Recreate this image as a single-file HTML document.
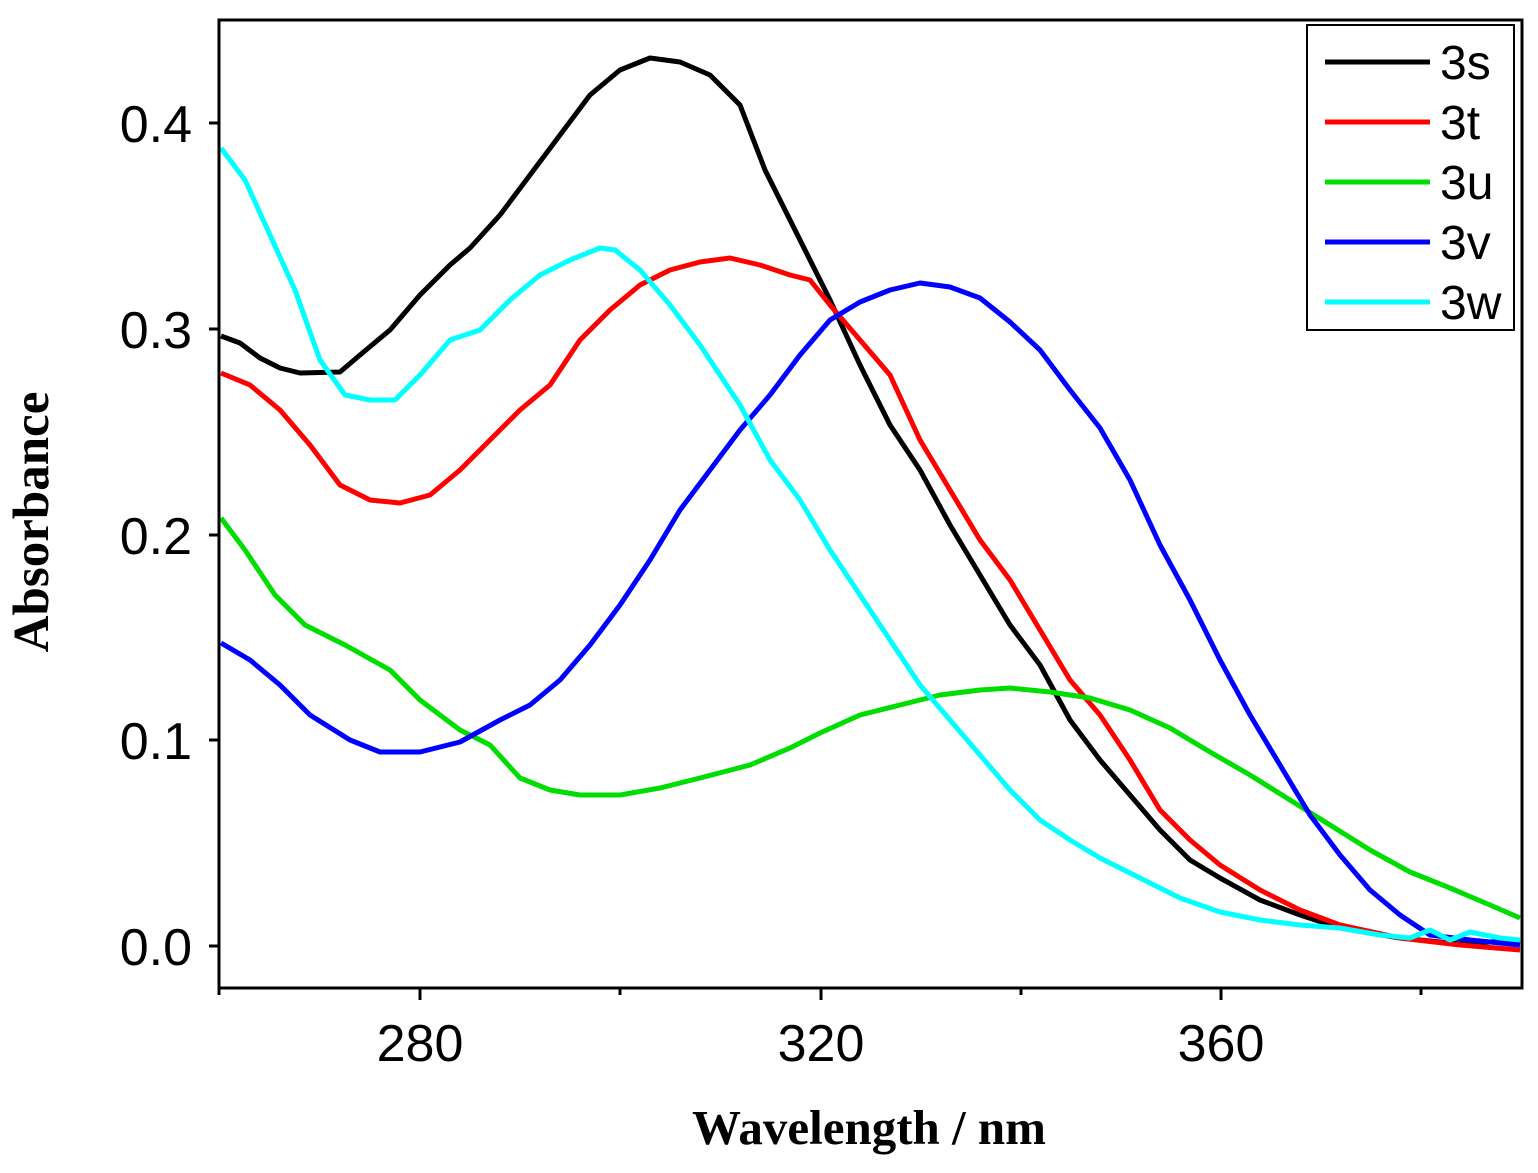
<!DOCTYPE html>
<html><head><style>body{margin:0;background:#fff}</style></head><body>
<svg width="1538" height="1168" xmlns="http://www.w3.org/2000/svg">
<rect width="1538" height="1168" fill="#fff"/>
<g fill="none" stroke-width="5" stroke-linejoin="round">
<polyline stroke="#000" points="221,336 240,343 260,358 280,368 300,373 340,372 360,355 390,330 420,295 450,265 470,248 500,215 530,175 560,135 590,95 620,70 650,58 680,62 710,75 740,105 765,170 790,220 810,260 830,300 860,365 890,425 920,470 950,525 980,575 1010,625 1040,665 1070,720 1100,760 1130,795 1160,830 1190,860 1220,878 1260,900 1300,915 1340,928 1400,938 1460,944 1520,940"/>
<polyline stroke="#f00" points="221,373 250,385 280,410 310,445 340,485 370,500 400,503 430,495 460,470 490,440 520,410 550,385 580,340 610,310 640,285 670,270 700,262 730,258 760,265 790,275 810,280 830,305 860,340 890,375 920,440 950,490 980,540 1010,580 1040,630 1070,680 1100,715 1130,760 1160,810 1190,840 1220,865 1260,890 1300,910 1340,925 1400,938 1460,945 1520,950"/>
<polyline stroke="#0d0" points="221,518 245,550 275,595 305,625 345,645 390,670 420,700 460,730 490,745 520,778 550,790 580,795 620,795 660,788 700,778 750,765 790,748 820,733 860,715 900,705 940,695 980,690 1010,688 1050,692 1090,698 1130,710 1170,728 1210,752 1250,775 1290,800 1330,825 1370,850 1410,872 1450,888 1490,905 1520,918"/>
<polyline stroke="#00f" points="221,643 250,660 280,685 310,715 350,740 380,752 420,752 460,742 500,720 530,705 560,680 590,645 620,605 650,560 680,510 710,470 740,430 770,395 800,355 830,320 860,302 890,290 920,283 950,287 980,298 1010,322 1040,350 1070,390 1100,428 1130,480 1160,545 1190,600 1220,660 1250,715 1280,765 1310,815 1340,855 1370,890 1400,915 1430,935 1470,940 1520,945"/>
<polyline stroke="#0ff" points="221,148 245,180 270,235 295,290 320,360 345,395 370,400 395,400 420,375 450,340 480,330 510,300 540,275 570,260 600,248 615,250 640,270 670,305 700,345 740,405 770,460 800,500 830,550 860,595 890,640 920,685 950,720 980,755 1010,790 1040,820 1070,840 1100,858 1140,878 1180,898 1220,912 1260,920 1300,925 1340,928 1380,935 1410,938 1430,930 1450,940 1470,932 1500,938 1520,940"/>
</g>
<rect x="219" y="20" width="1303" height="968" fill="none" stroke="#000" stroke-width="3"/>
<g stroke="#000" stroke-width="3">
<line x1="209" y1="946" x2="219" y2="946"/><line x1="209" y1="740" x2="219" y2="740"/><line x1="209" y1="535" x2="219" y2="535"/><line x1="209" y1="329" x2="219" y2="329"/><line x1="209" y1="123" x2="219" y2="123"/>
<line x1="420" y1="988" x2="420" y2="1000"/><line x1="821" y1="988" x2="821" y2="1000"/><line x1="1221" y1="988" x2="1221" y2="1000"/>
<line x1="620" y1="988" x2="620" y2="995"/><line x1="1021" y1="988" x2="1021" y2="995"/><line x1="1421" y1="988" x2="1421" y2="995"/><line x1="219" y1="988" x2="219" y2="995"/>
</g>
<g font-family="Liberation Sans, sans-serif" font-size="52" fill="#000">
<g text-anchor="end"><text x="192" y="965">0.0</text><text x="192" y="759">0.1</text><text x="192" y="554">0.2</text><text x="192" y="348">0.3</text><text x="192" y="142">0.4</text></g>
<g text-anchor="middle"><text x="420" y="1061">280</text><text x="821" y="1061">320</text><text x="1221" y="1061">360</text></g>
</g>
<text x="869" y="1144" text-anchor="middle" font-family="Liberation Serif, serif" font-weight="bold" font-size="49">Wavelength / nm</text>
<text transform="translate(48,522) rotate(-90)" text-anchor="middle" font-family="Liberation Serif, serif" font-weight="bold" font-size="51">Absorbance</text>
<rect x="1307" y="25" width="207" height="305" fill="#fff" stroke="#000" stroke-width="2"/>
<g stroke-width="5"><line x1="1325" y1="62" x2="1430" y2="62" stroke="#000"/><line x1="1325" y1="122" x2="1430" y2="122" stroke="#f00"/><line x1="1325" y1="182" x2="1430" y2="182" stroke="#0d0"/><line x1="1325" y1="242" x2="1430" y2="242" stroke="#00f"/><line x1="1325" y1="302" x2="1430" y2="302" stroke="#0ff"/></g>
<g font-family="Liberation Sans, sans-serif" font-size="48"><text x="1440" y="79">3s</text><text x="1440" y="139">3t</text><text x="1440" y="199">3u</text><text x="1440" y="259">3v</text><text x="1440" y="319">3w</text></g>
</svg>
</body></html>
